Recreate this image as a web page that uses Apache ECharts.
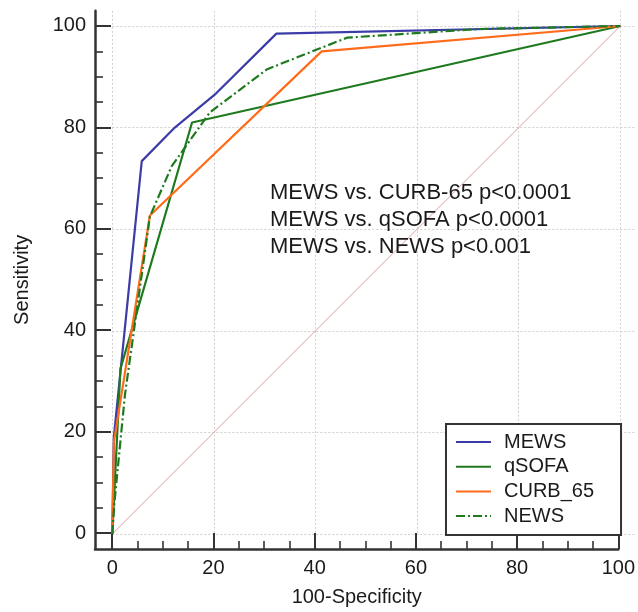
<!DOCTYPE html>
<html>
<head>
<meta charset="utf-8">
<script src="https://cdn.jsdelivr.net/npm/echarts@6/dist/echarts.min.js"></script>
<style>
html,body{margin:0;padding:0;background:#fff;}
#c{width:638px;height:612px;}
</style>
</head>
<body>
<div id="c"></div>
<script>
// ---- data (100-Specificity, Sensitivity) ----
const MEWS = [[0,0],[0.3,19],[5.8,73.4],[12.3,80],[20.4,86.7],[32.3,98.5],[100,100]];
const qSOFA = [[0,0],[1.6,32.5],[15.7,81],[100,100]];
const CURB_65 = [[0,0],[0.3,18],[7.4,62.7],[41.2,95],[100,100]];
const NEWS = [[0,0],[0.4,6],[2.5,27.5],[7.4,62.5],[11.7,72.4],[19.2,83],[30.5,91.5],[46.2,97.7],[72,99.4],[100,100]];
const REF = [[0,0],[100,100]];
const majorTicks = [0,20,40,60,80,100];
const minorTicks = [5,10,15,25,30,35,45,50,55,65,70,75,85,90,95];
const annotation = ['MEWS vs. CURB-65 p<0.0001','MEWS vs. qSOFA p<0.0001','MEWS vs. NEWS p<0.001'];
const seriesNames = ['MEWS','qSOFA','CURB_65','NEWS'];

const FONT = "'Liberation Sans', Arial, sans-serif";
const S = 5.08;           // px per unit
const X0 = 112.3, Y0 = 534;
const TOP = Y0 - 103*S;
const AXMINX = -(X0-95)/S;
const AXMINY = -(550-Y0)/S;

const chart = echarts.init(document.getElementById('c'), null, {renderer:'canvas'});
const axisCol = '#333';
const green = '#1f7a1f';

function decoAxis(kind, minorOnly){
  const base = {
    type:'value', gridIndex:1,
    position: kind==='x' ? 'bottom' : 'left',
    min: kind==='x'? AXMINX : AXMINY,
    max: kind==='x'? 100 : 103,
    splitLine:{show:false},
    axisLine:{show:!minorOnly, onZero:false, lineStyle:{color:axisCol, width:2.5}},
    axisTick:{show:true, inside:true, customValues: minorOnly? minorTicks: majorTicks,
      length: minorOnly? 8 : 16, lineStyle:{color:axisCol, width: minorOnly?1.6:2}},
    axisLabel:{show:!minorOnly, customValues: majorTicks, fontSize:20, fontFamily:FONT, color:'#1a1a1a', margin:9}
  };
  if(!minorOnly){
    if(kind==='x'){
      Object.assign(base,{name:'100-Specificity', nameLocation:'middle', nameGap:38,
        nameTextStyle:{fontSize:20, fontFamily:FONT, color:'#1a1a1a'}, nameMoveOverlap:false});
    } else {
      Object.assign(base,{name:'Sensitivity', nameLocation:'middle', nameGap:63, nameRotate:90,
        nameTextStyle:{fontSize:20, fontFamily:FONT, color:'#1a1a1a'}, nameMoveOverlap:false});
    }
  }
  return base;
}

const gridAxis = (kind)=>({
  type:'value', gridIndex:0, min:0, max:103, interval:20,
  position: kind==='x' ? 'bottom' : 'left',
  axisLine:{show:false}, axisTick:{show:false}, axisLabel:{show:false},
  splitLine:{show:true, showMaxLine:false, lineStyle:{color:'#cfcfcf', type:[2,2], width:1}}
});

const line = (name, data, color, type) => ({
  name, type:'line', data, xAxisIndex:0, yAxisIndex:0,
  symbol:'none', smooth:false, z:3,
  lineStyle:{color, width:2.2, type: type||'solid'},
  itemStyle:{color}
});

chart.setOption({
  animation:false,
  backgroundColor:'#fff',
  grid:[
    {left:X0, top:TOP, width:103*S, height:103*S},
    {left:95, top:TOP, width:620.3-95, height:550-TOP}
  ],
  xAxis:[gridAxis('x'), decoAxis('x',false), decoAxis('x',true)],
  yAxis:[gridAxis('y'), decoAxis('y',false), decoAxis('y',true)],
  legend:{
    data:seriesNames, orient:'vertical', left:446, top:424,
    padding:[8,27,9,9], itemWidth:35, itemHeight:14, itemGap:4.7,
    borderColor:'#333', borderWidth:2, backgroundColor:'#fff', z:10,
    itemStyle:{opacity:0},
    textStyle:{fontSize:20, lineHeight:20, fontFamily:FONT, color:'#1a1a1a', padding:[0,0,0,8]}
  },
  graphic:[{
    type:'text', left:270, top:179, z:5,
    style:{text:annotation.join('\n'), font:"22px 'Liberation Sans', Arial, sans-serif", lineHeight:27, fill:'#1a1a1a'}
  }],
  series:[
    {name:'ref', type:'line', data:REF, symbol:'none', z:2, lineStyle:{color:'#e0a0a0', width:1}, silent:true},
    line('MEWS', MEWS, '#3c3ca8'),
    line('qSOFA', qSOFA, green),
    line('CURB_65', CURB_65, '#ff6b1a'),
    line('NEWS', NEWS, green, [9,3,2,3])
  ]
});
</script>
</body>
</html>
